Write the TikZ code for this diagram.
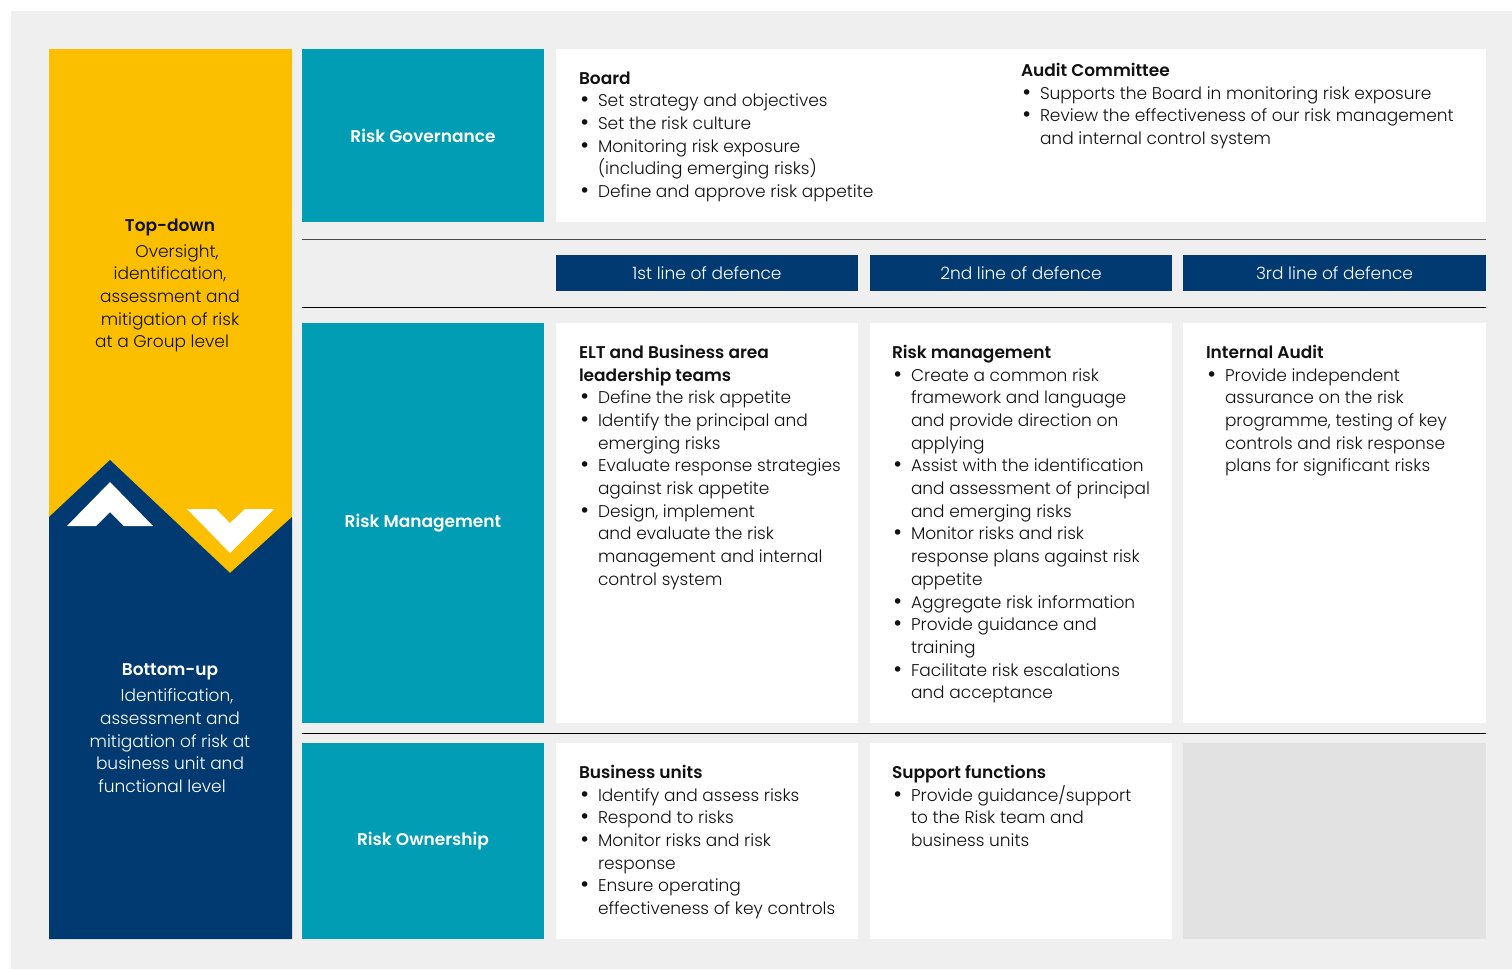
\documentclass[tikz,border=0pt]{standalone}
\usepackage{fontspec}
\IfFontExistsTF{Poppins Light}{%
  \IfFontExistsTF{Poppins SemiBold}{%
    \setmainfont{Poppins Light}[BoldFont={Poppins SemiBold}]}{%
    \setmainfont{Poppins Light}[BoldFont={Poppins Bold}]}}{%
  \setmainfont{Poppins}}
\newfontfamily\bulletfont{DejaVu Sans}
\definecolor{bgc}{HTML}{EFEFEF}
\definecolor{yel}{HTML}{FBBF00}
\definecolor{tealc}{HTML}{009DB5}
\definecolor{navy}{HTML}{003A70}
\definecolor{lgrey}{HTML}{E2E2E2}
\definecolor{ink}{HTML}{111111}
\definecolor{rulec}{HTML}{4A4A4A}
\newcommand\bl{\makebox[19pt][l]{{\bulletfont\fontsize{19}{0}\selectfont •}}}
\newcommand\ind{\hspace*{19pt}}
\begin{document}
\begin{tikzpicture}[x=1pt,y=-1pt,
  box/.style={anchor=north west, inner sep=0pt, outer sep=0pt, draw=none},
  whitebox/.style={box, fill=white},
  tealbox/.style={box, fill=tealc, text=white, font=\fontsize{17}{22}\selectfont\bfseries},
  headbox/.style={box, fill=navy, text=white, font=\fontsize{17}{22}\selectfont, minimum width=302pt, minimum height=36pt},
  txt/.style={anchor=north west, align=left, inner sep=0pt, outer sep=0pt, font=\fontsize{17}{22.7}\selectfont, text=ink},
  ctxt/.style={anchor=north, align=center, inner sep=0pt, outer sep=0pt, font=\fontsize{17}{22.7}\selectfont},
  rulel/.style={line width=1pt}
]
\useasboundingbox (0,0) rectangle (1512,969);
\fill[white] (0,0) rectangle (1512,969);
\fill[bgc] (11,11) rectangle (1512,969);

% left column
\fill[yel] (49,49) rectangle (292,939);
\fill[navy] (49,517) -- (110,460) -- (230,573) -- (292,517) -- (292,939) -- (49,939) -- cycle;
\fill[white] (67,526) -- (110,482) -- (153,526) -- (124,526) -- (110,512) -- (96,526) -- cycle;
\fill[white] (187,509) -- (230,553) -- (274,509) -- (245,509) -- (230,523) -- (216,509) -- cycle;

\node[ctxt, text=ink] (topdown) at (170,218.5) {\textbf{Top-down}\\[3.3pt] \hspace*{14pt}Oversight,\\ identification,\\ assessment and\\ mitigation of risk\\ at a Group level\hspace*{16pt}};
\node[ctxt, text=white] (bottomup) at (170,664) {\textbf{Bottom-up}\\[3.3pt] \hspace*{14pt}Identification,\\ assessment and\\ mitigation of risk at\\ business unit and\\ functional level\hspace*{16pt}};

% teal labels
\node[tealbox, minimum width=242pt, minimum height=173pt] (gov) at (302,49) {Risk Governance};
\node[tealbox, minimum width=242pt, minimum height=400pt] (mgmt) at (302,323) {Risk Management};
\node[tealbox, minimum width=242pt, minimum height=196pt] (own) at (302,743) {Risk Ownership};

% governance row
\node[whitebox, minimum width=930pt, minimum height=173pt] (govbox) at (556,49) {};
\node[txt] (board) at (579,71.5) {\textbf{Board}\\ \bl Set strategy and objectives\\ \bl Set the risk culture\\ \bl Monitoring risk exposure\\ \ind(including emerging risks)\\ \bl Define and approve risk appetite};
\node[txt] (audit) at (1021,63) {\textbf{Audit Committee}\\ \bl Supports the Board in monitoring risk exposure\\ \bl Review the effectiveness of our risk management\\ \ind and internal control system};

% rules
\draw[rulel, draw=rulec] (302,239) -- (1486,239);
\draw[rulel, draw=black] (302,307) -- (1486,307);
\draw[rulel, draw=black] (302,733) -- (1486,733);

% headers
\node[headbox] (h1) at (556,255) {1st line of defence};
\node[headbox] (h2) at (870,255) {2nd line of defence};
\node[headbox, minimum width=303pt] (h3) at (1183,255) {3rd line of defence};

% management row
\node[whitebox, minimum width=302pt, minimum height=400pt] (m1) at (556,323) {};
\node[whitebox, minimum width=302pt, minimum height=400pt] (m2) at (870,323) {};
\node[whitebox, minimum width=303pt, minimum height=400pt] (m3) at (1183,323) {};
\node[txt] (elt) at (579,345) {\textbf{ELT and Business area}\\ \textbf{leadership teams}\\ \bl Define the risk appetite\\ \bl Identify the principal and\\ \ind emerging risks\\ \bl Evaluate response strategies\\ \ind against risk appetite\\ \bl Design, implement\\ \ind and evaluate the risk\\ \ind management and internal\\ \ind control system};
\node[txt] (rm) at (892,345) {\textbf{Risk management}\\ \bl Create a common risk\\ \ind framework and language\\ \ind and provide direction on\\ \ind applying\\ \bl Assist with the identification\\ \ind and assessment of principal\\ \ind and emerging risks\\ \bl Monitor risks and risk\\ \ind response plans against risk\\ \ind appetite\\ \bl Aggregate risk information\\ \bl Provide guidance and\\ \ind training\\ \bl Facilitate risk escalations\\ \ind and acceptance};
\node[txt] (ia) at (1206,345) {\textbf{Internal Audit}\\ \bl Provide independent\\ \ind assurance on the risk\\ \ind programme, testing of key\\ \ind controls and risk response\\ \ind plans for significant risks};

% ownership row
\node[whitebox, minimum width=302pt, minimum height=196pt] (o1) at (556,743) {};
\node[whitebox, minimum width=302pt, minimum height=196pt] (o2) at (870,743) {};
\node[box, fill=lgrey, minimum width=303pt, minimum height=196pt] (o3) at (1183,743) {};
\node[txt] (bu) at (579,765) {\textbf{Business units}\\ \bl Identify and assess risks\\ \bl Respond to risks\\ \bl Monitor risks and risk\\ \ind response\\ \bl Ensure operating\\ \ind effectiveness of key controls};
\node[txt] (sf) at (892,765) {\textbf{Support functions}\\ \bl Provide guidance/support\\ \ind to the Risk team and\\ \ind business units};
\end{tikzpicture}
\end{document}
